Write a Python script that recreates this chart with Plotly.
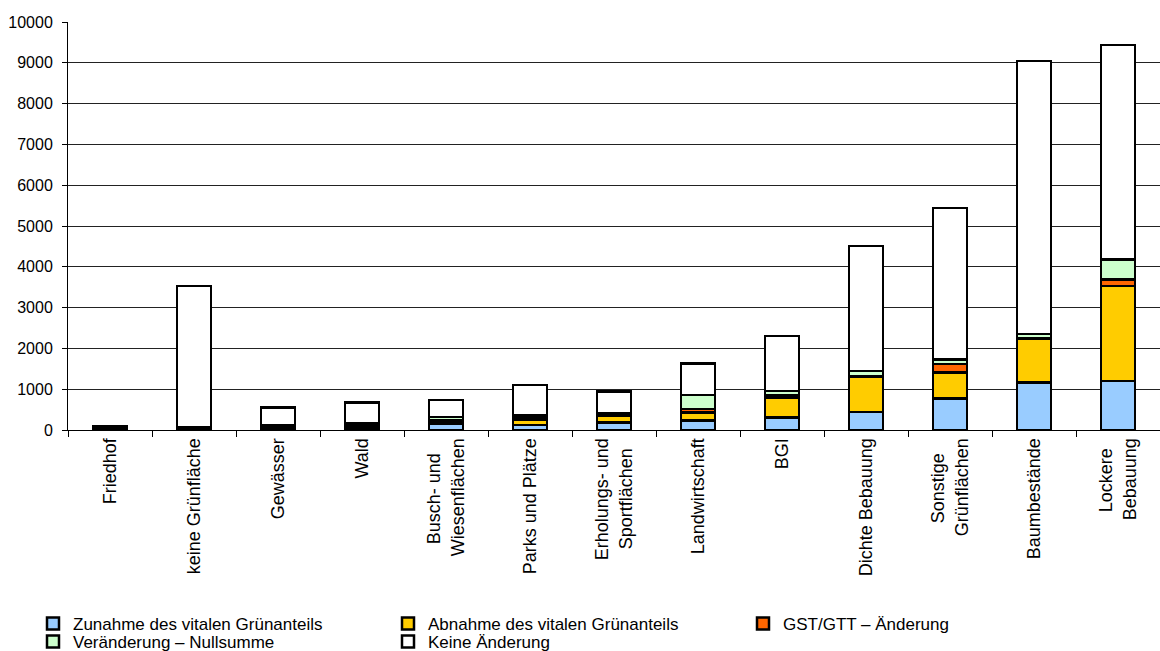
import plotly.graph_objects as go

NB = "\u00a0"  # non-breaking space, keeps two-line labels visually centred

categories = [
    "Friedhof", "keine Grünfläche", "Gewässer", "Wald",
    "Busch- und" + NB * 3 + "<br>Wiesenflächen", "Parks und Plätze",
    "Erholungs- und<br>Sportflächen" + NB * 2, "Landwirtschaft", "BGI",
    "Dichte Bebauung", "Sonstige" + NB * 3 + "<br>Grünflächen", "Baumbestände",
    "Lockere" + NB * 2 + "<br>Bebauung",
]

zunahme = [5, 10, 10, 10, 150, 123, 180, 229, 302, 441, 776, 1159, 1200]
abnahme = [20, 20, 40, 50, 30, 139, 163, 196, 490, 865, 629, 1078, 2327]
gst_gtt = [5, 10, 20, 30, 50, 40, 25, 90, 70, 20, 212, 15, 163]
nullsumme = [5, 20, 50, 70, 90, 67, 40, 343, 100, 120, 114, 100, 490]
keine_aenderung = [45, 3470, 430, 510, 410, 738, 531, 776, 1339, 3060, 3710, 6692, 5256]

# (name, values, fill colour, legend row)
series = [
    ("Zunahme des vitalen Grünanteils", zunahme, "#99CCFF", "legend"),
    ("Abnahme des vitalen Grünanteils", abnahme, "#FFCC00", "legend"),
    ("GST/GTT – Änderung", gst_gtt, "#FF6600", "legend"),
    ("Veränderung – Nullsumme", nullsumme, "#CCFFCC", "legend2"),
    ("Keine Änderung", keine_aenderung, "#FFFFFF", "legend2"),
]

FONT = "Liberation Sans, Arial, sans-serif"
W, H = 1160, 651

fig = go.Figure()
for name, values, color, leg in series:
    fig.add_trace(go.Bar(
        x=categories,
        y=values,
        name=name,
        width=0.4,
        legend=leg,
        marker=dict(color=color, line=dict(color="#000000", width=2.5)),
    ))


def legend_row(top_px):
    return dict(
        orientation="h",
        xref="container",
        yref="container",
        x=33 / W,
        y=1 - top_px / H,
        xanchor="left",
        yanchor="top",
        entrywidth=310,
        entrywidthmode="pixels",
        itemwidth=30,
        traceorder="normal",
        font=dict(family=FONT, size=17, color="#000000"),
        bgcolor="rgba(0,0,0,0)",
    )


fig.update_layout(
    barmode="stack",
    width=W,
    height=H,
    margin=dict(l=68, r=0, t=22, b=221),
    paper_bgcolor="#FFFFFF",
    plot_bgcolor="#FFFFFF",
    font=dict(family=FONT, size=16, color="#000000"),
    showlegend=True,
    legend=legend_row(606),
    legend2=legend_row(624),
    xaxis=dict(
        type="category",
        tickangle=-90,
        tickson="boundaries",
        ticks="outside",
        ticklen=6,
        tickcolor="#000000",
        showline=True,
        linecolor="#000000",
        linewidth=1,
        showgrid=False,
        tickfont=dict(family=FONT, size=18, color="#000000"),
    ),
    yaxis=dict(
        range=[0, 10000],
        dtick=1000,
        tickformat="d",
        ticks="outside",
        ticklen=5,
        ticklabelstandoff=6,
        tickcolor="#000000",
        showline=True,
        linecolor="#000000",
        linewidth=1,
        showgrid=True,
        gridcolor="#222222",
        gridwidth=1,
        zeroline=False,
        tickfont=dict(family=FONT, size=16, color="#000000"),
    ),
)

fig.write_html("out.html")
